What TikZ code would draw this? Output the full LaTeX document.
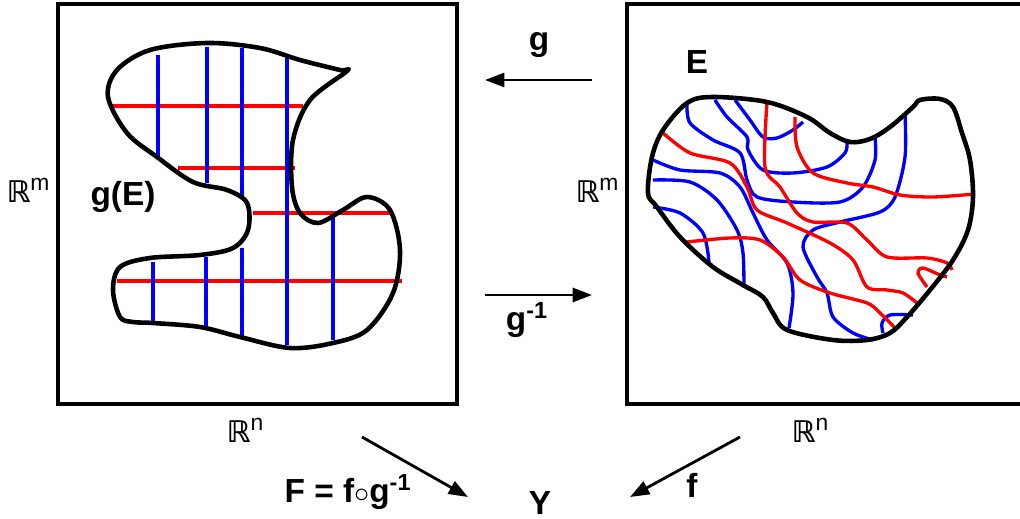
\documentclass[tikz,border=0pt]{standalone}
\usepackage{fontspec}
\setmainfont{Liberation Sans}
\newfontfamily\dejavu{DejaVu Sans}
\usetikzlibrary{arrows.meta}

\newcommand{\Rsp}[1]{{\dejavu\bfseries ℝ}\raisebox{0.75ex}{\fontsize{13}{13}\selectfont #1}}

\begin{document}
\begin{tikzpicture}[x=0.02cm,y=-0.02cm,
    box/.style={line width=2.6pt},
    outline/.style={line width=2.6pt,line join=round},
    redline/.style={red,line width=1.9pt},
    blueline/.style={blue,line width=1.9pt},
    lab/.style={font=\fontsize{19}{22}\selectfont\bfseries,inner sep=0pt},
    rlab/.style={font=\fontsize{17}{20}\selectfont,inner sep=0pt},
    map/.style={line width=1.6pt,-{Triangle[length=11pt,width=8pt]}}]
    \useasboundingbox (0,0) rectangle (1020,519);
    % the two spaces
    \draw[box] (58,4) rectangle (457,404);
    \draw[box] (627,4) rectangle (1024,404);
    % g(E): grid of straight lines
    \draw[redline] (111,106) -- (303,106);
    \draw[redline] (178,168) -- (295,168);
    \draw[redline] (253,213) -- (390,213);
    \draw[redline] (117,281) -- (402,281);
    \draw[blueline] (158,55) -- (158,157);
    \draw[blueline] (153,262) -- (153,322);
    \draw[blueline] (207,47) -- (207,183);
    \draw[blueline] (206,257) -- (206,328);
    \draw[blueline] (242,48) -- (242,197);
    \draw[blueline] (242,248) -- (242,338);
    \draw[blueline] (287,58) -- (287,345);
    \draw[blueline] (333,218) -- (333,340);
    \draw[outline] plot[smooth cycle,tension=0.55] coordinates {
        (347,71) (310,100) (293,140) (292,187) (300,213) (318,223) (343,210)
        (367,197) (390,210) (400,250) (393,293) (367,330) (333,343) (290,348)
        (240,337) (200,327) (153,323) (133,322) (120,317) (113,290) (120,267)
        (150,258) (200,255) (233,248) (248,230) (247,203) (227,190) (193,182)
        (157,157) (127,133) (108,97) (117,70) (150,50) (207,43) (260,48)
        (300,60) (340,70)};
    % E: curved grid
    \draw[blueline] plot[smooth] coordinates {(687,105) (690,123) (713,140) (740,153) (747,180)
        (757,197) (793,202) (840,202) (863,187) (875,160) (875,137)};
    \draw[blueline] plot[smooth] coordinates {(715,100) (727,117) (747,137) (748,150) (763,170)
        (793,173) (827,167) (845,153) (847,142)};
    \draw[blueline] plot[smooth] coordinates {(735,100) (750,120) (763,137) (777,138) (793,130) (803,122)};
    \draw[blueline] plot[smooth] coordinates {(653,160) (680,170) (720,173) (740,187) (753,213)
        (767,240) (787,263) (793,293) (789,328)};
    \draw[blueline] plot[smooth] coordinates {(653,180) (690,182) (717,200) (737,230) (743,253) (744,288)};
    \draw[blueline] plot[smooth] coordinates {(653,207) (680,213) (703,233) (709,262)};
    \draw[blueline] plot[smooth] coordinates {(905,113) (905,157) (895,197) (880,212) (840,222)
        (813,230) (803,247) (817,277) (827,293) (833,317) (853,333) (873,340)};
    \draw[blueline] plot[smooth] coordinates {(913,315) (890,315) (882,323) (883,333)};
    \draw[redline] plot[smooth] coordinates {(767,102) (765,167) (780,187) (797,213) (813,222)
        (847,223) (867,240) (887,257) (927,258) (947,263) (952,270)};
    \draw[redline] plot[smooth] coordinates {(795,117) (797,147) (813,173) (847,183) (873,187)
        (900,195) (933,197) (975,194)};
    \draw[redline] plot[smooth] coordinates {(663,133) (690,153) (730,163) (747,187) (757,210)
        (787,223) (830,243) (853,260) (867,287) (887,290) (903,293) (917,303)};
    \draw[redline] plot[smooth] coordinates {(687,242) (730,238) (760,240) (783,257) (800,280)
        (830,293) (867,303) (880,313) (897,330)};
    \draw[redline] plot[smooth] coordinates {(927,287) (918,273) (923,268) (940,275) (947,277)};
    \draw[outline] plot[smooth cycle,tension=0.55] coordinates {
        (648,193) (652,157) (663,130) (687,103) (713,97) (767,102) (807,117)
        (830,133) (850,142) (870,139) (890,127) (913,107) (920,100) (940,99)
        (953,107) (962,133) (970,160) (973,197) (968,230) (953,260) (930,290)
        (907,317) (890,333) (867,340) (833,340) (787,330) (773,313) (763,297)
        (743,285) (713,267) (680,237) (657,207)};
    % labels
    \node[rlab] (Rm1) at (28,190) {\Rsp{m}};
    \node[rlab] (Rn1) at (245,430) {\Rsp{n}};
    \node[rlab] (Rm2) at (597,190) {\Rsp{m}};
    \node[rlab] (Rn2) at (810,430) {\Rsp{n}};
    \node[lab] (gE) at (123,197) {g(E)};
    \node[lab] (E) at (697,62) {E};
    \node[lab] (glab) at (539,45) {g};
    \node[lab] (ginv) at (527,320) {g\textsuperscript{-1}};
    \node[lab] (Y) at (540,503) {Y};
    \node[lab] (Flab) at (348,492) {F = f$\circ$g\textsuperscript{-1}};
    \node[lab] (flab) at (692,485) {f};
    % maps
    \coordinate (g0) at (592,80);
    \coordinate (g1) at (485,80);
    \coordinate (h0) at (485,295);
    \coordinate (h1) at (592,295);
    \coordinate (F0) at (362,437);
    \coordinate (F1) at (468,497);
    \coordinate (f0) at (740,437);
    \coordinate (f1) at (630,497);
    \draw[map] (g0) -- (g1);
    \draw[map] (h0) -- (h1);
    \draw[map] (F0) -- (F1);
    \draw[map] (f0) -- (f1);
\end{tikzpicture}
\end{document}
